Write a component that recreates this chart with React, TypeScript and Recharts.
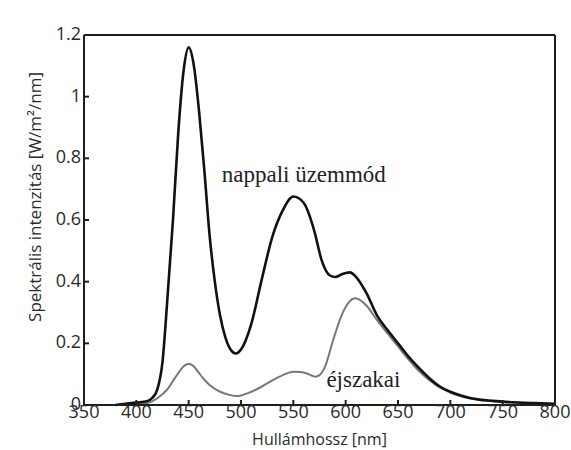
/** Spectral intensity of an LED lamp: day mode vs. night mode. */

import { LineChart, Line, XAxis, YAxis, ReferenceDot } from 'recharts'

const dayWavelengths = [
  380, 390, 400, 410, 415, 420, 425, 430, 435, 440, 445, 450, 455, 460, 465, 470, 475, 480, 485,
  490, 495, 500, 510, 520, 530, 540, 550, 560, 570, 577, 585, 590, 597, 604, 610, 620, 630, 640,
  650, 660, 670, 680, 690, 700, 720, 750, 780, 800,
]
const dayValues = [
  0, 0.004, 0.008, 0.012, 0.022, 0.05, 0.14, 0.36, 0.6, 0.88, 1.08, 1.16, 1.1, 0.95, 0.76, 0.55,
  0.4, 0.29, 0.22, 0.18, 0.167, 0.18, 0.265, 0.41, 0.546, 0.632, 0.676, 0.655, 0.565, 0.47, 0.42,
  0.415, 0.425, 0.43, 0.415, 0.362, 0.29, 0.243, 0.2, 0.157, 0.12, 0.087, 0.06, 0.043, 0.022,
  0.011, 0.006, 0.004,
]

const nightWavelengths = [
  400, 410, 420, 430, 435, 440, 445, 450, 455, 460, 465, 470, 480, 490, 495, 500, 510, 520, 530,
  540, 550, 557, 563, 568, 571, 575, 580, 588, 596, 603, 609, 620, 630, 640, 650, 660, 670, 680,
  690, 700, 720, 750, 780, 800,
]
const nightValues = [
  0.003, 0.006, 0.022, 0.052, 0.078, 0.103, 0.125, 0.134, 0.125, 0.103, 0.082, 0.065, 0.043, 0.032,
  0.029, 0.031, 0.043, 0.06, 0.08, 0.097, 0.108, 0.107, 0.102, 0.095, 0.092, 0.097, 0.122, 0.21,
  0.29, 0.333, 0.346, 0.322, 0.275, 0.232, 0.19, 0.148, 0.11, 0.08, 0.056, 0.04, 0.02, 0.01, 0.005,
  0.003,
]

const xTicks = [350, 400, 450, 500, 550, 600, 650, 700, 750, 800]
const yTicks = [0, 0.2, 0.4, 0.6, 0.8, 1, 1.2]

const dayData = dayWavelengths.map((x, i) => ({ x, y: dayValues[i] }))
const nightData = nightWavelengths.map((x, i) => ({ x, y: nightValues[i] }))

const sans = '"Open Sans", sans-serif'
const serif = '"Liberation Serif", "Times New Roman", serif'
const frame = '#1e1e1e'
const textColor = '#2a2a2a'

// chart box and where the plot frame ends up
const W = 571
const H = 450
const MARGIN = { top: 34, right: 15, left: 24, bottom: 0 }
const Y_AXIS_W = 60
const X_AXIS_H = 45
const PLOT_LEFT = MARGIN.left + Y_AXIS_W
const PLOT_RIGHT = W - MARGIN.right - 1
const PLOT_TOP = MARGIN.top + 1
const PLOT_BOTTOM = H - MARGIN.bottom - X_AXIS_H
const TICK = 5

// inward tick marks, drawn together with the labels
function BottomTick({ x, payload }: any) {
  return (
    <g>
      <line x1={x} x2={x} y1={PLOT_BOTTOM} y2={PLOT_BOTTOM - TICK} stroke={frame} strokeWidth={2} />
      <text x={x} y={PLOT_BOTTOM + 13} textAnchor="middle" fontSize={18} fontFamily={sans} fill={textColor}>
        {payload.value}
      </text>
    </g>
  )
}

function LeftTick({ y, payload }: any) {
  return (
    <g>
      <line x1={PLOT_LEFT} x2={PLOT_LEFT + TICK} y1={y} y2={y} stroke={frame} strokeWidth={2} />
      <text x={PLOT_LEFT - 3} y={y + 5} textAnchor="end" fontSize={18} fontFamily={sans} fill={textColor}>
        {payload.value}
      </text>
    </g>
  )
}

function TopTick({ x }: any) {
  return <line x1={x} x2={x} y1={PLOT_TOP} y2={PLOT_TOP + TICK} stroke={frame} strokeWidth={2} />
}

function RightTick({ y }: any) {
  return <line x1={PLOT_RIGHT} x2={PLOT_RIGHT - TICK} y1={y} y2={y} stroke={frame} strokeWidth={2} />
}

export default function App() {
  return (
    <div style={{ position: 'absolute', left: 0, top: 0, background: '#fff' }}>
      <LineChart width={W} height={H} margin={MARGIN}>
        <XAxis
          dataKey="x"
          type="number"
          domain={[350, 800]}
          ticks={xTicks}
          allowDataOverflow
          height={X_AXIS_H}
          stroke={frame}
          strokeWidth={2}
          tickLine={false}
          tick={BottomTick}
          label={{
            value: 'Hullámhossz [nm]',
            position: 'insideBottom',
            offset: 5,
            fontSize: 16,
            fontFamily: sans,
            fill: textColor,
          }}
        />
        <XAxis
          xAxisId="top"
          orientation="top"
          dataKey="x"
          type="number"
          domain={[350, 800]}
          ticks={xTicks}
          height={1}
          stroke={frame}
          strokeWidth={2}
          tickLine={false}
          tick={TopTick}
        />
        <YAxis
          type="number"
          domain={[0, 1.2]}
          ticks={yTicks}
          width={Y_AXIS_W}
          stroke={frame}
          strokeWidth={2}
          tickLine={false}
          tick={LeftTick}
          label={{
            value: 'Spektrális intenzitás [W/m²/nm]',
            angle: -90,
            position: 'center',
            dx: -19,
            dy: -23,
            fontSize: 17,
            fontFamily: sans,
            fill: textColor,
          }}
        />
        <YAxis
          yAxisId="right"
          orientation="right"
          type="number"
          domain={[0, 1.2]}
          ticks={yTicks}
          width={1}
          stroke={frame}
          strokeWidth={2}
          tickLine={false}
          tick={RightTick}
        />
        <Line
          data={nightData}
          dataKey="y"
          type="monotone"
          stroke="#777"
          strokeWidth={2}
          dot={false}
          isAnimationActive={false}
        />
        <Line
          data={dayData}
          dataKey="y"
          type="monotone"
          stroke="#111"
          strokeWidth={2.6}
          dot={false}
          isAnimationActive={false}
        />
        <ReferenceDot
          x={560}
          y={0.75}
          r={0}
          stroke="none"
          label={{ value: 'nappali üzemmód', position: 'center', fontSize: 23, fontFamily: serif, fill: '#222' }}
        />
        <ReferenceDot
          x={617}
          y={0.086}
          r={0}
          stroke="none"
          label={{ value: 'éjszakai', position: 'center', fontSize: 23, fontFamily: serif, fill: '#222' }}
        />
      </LineChart>
    </div>
  )
}
